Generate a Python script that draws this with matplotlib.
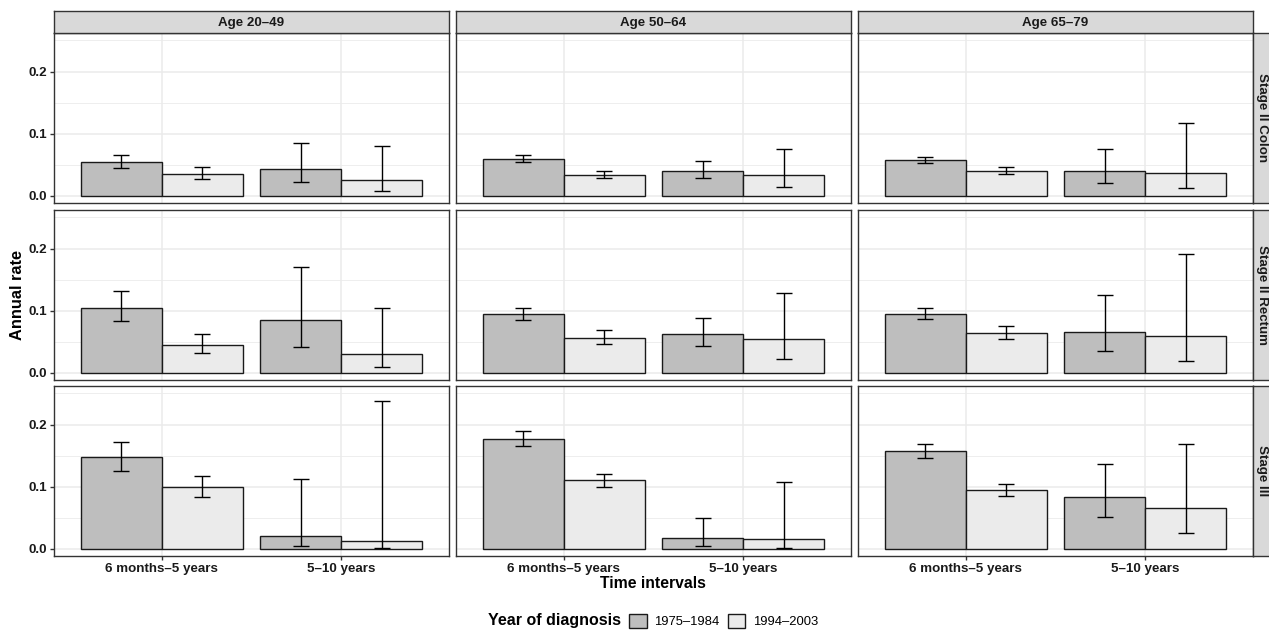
import numpy as np
import matplotlib.pyplot as plt
from matplotlib.patches import Patch

plt.rcParams['font.family'] = ['Liberation Sans', 'DejaVu Sans']

ages = ['Age 20–49', 'Age 50–64', 'Age 65–79']
stages = ['Stage II Colon', 'Stage II Rectum', 'Stage III']
intervals = ['6 months–5 years', '5–10 years']
periods = ['1975–1984', '1994–2003']

# [stage][age] -> [6 months-5 years, 5-10 years]
rate_early = [[[0.054, 0.044], [0.060, 0.040], [0.057, 0.040]],
              [[0.105, 0.085], [0.095, 0.062], [0.095, 0.066]],
              [[0.147, 0.021], [0.177, 0.017], [0.157, 0.084]]]
lo_early = [[[0.045, 0.022], [0.055, 0.029], [0.053, 0.021]],
            [[0.084, 0.042], [0.085, 0.044], [0.087, 0.035]],
            [[0.125, 0.004], [0.166, 0.005], [0.146, 0.051]]]
hi_early = [[[0.065, 0.085], [0.066, 0.056], [0.062, 0.075]],
            [[0.131, 0.170], [0.104, 0.089], [0.105, 0.125]],
            [[0.172, 0.112], [0.189, 0.050], [0.169, 0.137]]]
rate_late = [[[0.035, 0.025], [0.034, 0.033], [0.040, 0.037]],
             [[0.045, 0.030], [0.056, 0.055], [0.064, 0.060]],
             [[0.099, 0.013], [0.110, 0.016], [0.094, 0.066]]]
lo_late = [[[0.027, 0.008], [0.028, 0.014], [0.035, 0.012]],
           [[0.032, 0.009], [0.046, 0.023], [0.055, 0.019]],
           [[0.084, 0.001], [0.100, 0.002], [0.085, 0.025]]]
hi_late = [[[0.046, 0.081], [0.040, 0.076], [0.046, 0.118]],
           [[0.062, 0.105], [0.069, 0.129], [0.075, 0.191]],
           [[0.117, 0.238], [0.121, 0.107], [0.104, 0.168]]]

fill_early = '#bebebe'
fill_late = '#ebebeb'
edge = '#1a1a1a'
frame = '#333333'

W, H = 1269, 633
fig = plt.figure(figsize=(W / 100, H / 100), dpi=100)

def fx(px):
    return px / W

def fy(py):
    return 1 - py / H

left_px = [54, 456, 858]
top_px = [33, 210, 386]
pw, ph = 395, 170
x = np.arange(1, len(intervals) + 1)
bw = 0.45

for r, stage in enumerate(stages):
    for c, age in enumerate(ages):
        ax = fig.add_axes([fx(left_px[c]), fy(top_px[r] + ph), fx(pw), ph / H])
        ax.set_xlim(0.4, 2.6)
        ax.set_ylim(-0.0115, 0.262)
        ax.set_yticks([0.0, 0.1, 0.2])
        ax.set_yticks([0.05, 0.15, 0.25], minor=True)
        ax.set_xticks(x)
        ax.grid(True, which='major', color='#ebebeb', linewidth=1.1)
        ax.grid(True, which='minor', axis='y', color='#ebebeb', linewidth=0.6)
        ax.set_axisbelow(True)
        for s in ax.spines.values():
            s.set_color(frame)
            s.set_linewidth(1.0)

        series = [(rate_early, lo_early, hi_early, fill_early, -bw / 2),
                  (rate_late, lo_late, hi_late, fill_late, bw / 2)]
        for rate, lo, hi, fill, off in series:
            vals = np.array(rate[r][c])
            lows = np.array(lo[r][c])
            highs = np.array(hi[r][c])
            ax.bar(x + off, vals, width=bw, color=fill, edgecolor=edge,
                   linewidth=1.0, zorder=2)
            ax.errorbar(x + off, vals, yerr=[vals - lows, highs - vals],
                        fmt='none', ecolor='black', elinewidth=1.0,
                        capsize=6, capthick=1.0, zorder=3)

        ax.tick_params(axis='both', which='major', length=3, width=1.0,
                       color=frame, labelsize=9.6, pad=2)
        ax.tick_params(axis='both', which='minor', length=0)
        if c == 0:
            ax.set_yticklabels(['0.0', '0.1', '0.2'], fontweight='bold',
                               color='#1a1a1a')
        else:
            ax.tick_params(axis='y', labelleft=False, length=0)
        if r == len(stages) - 1:
            ax.set_xticklabels(intervals, fontweight='bold', fontsize=9.6,
                               color='#1a1a1a')
        else:
            ax.tick_params(axis='x', labelbottom=False, length=0)

        if r == 0:
            sax = fig.add_axes([fx(left_px[c]), fy(top_px[0]), fx(pw), 22 / H])
            sax.set_facecolor('#d9d9d9')
            sax.set_xticks([])
            sax.set_yticks([])
            for s in sax.spines.values():
                s.set_color(frame)
                s.set_linewidth(1.0)
            sax.text(0.5, 0.47, age, ha='center', va='center',
                     fontweight='bold', fontsize=9.6, color='#1a1a1a',
                     transform=sax.transAxes)
        if c == len(ages) - 1:
            sax = fig.add_axes([fx(left_px[c] + pw), fy(top_px[r] + ph),
                                fx(22), ph / H])
            sax.set_facecolor('#d9d9d9')
            sax.set_xticks([])
            sax.set_yticks([])
            for s in sax.spines.values():
                s.set_color(frame)
                s.set_linewidth(1.0)
            sax.text(0.4, 0.5, stage, ha='center', va='center', rotation=-90,
                     fontweight='bold', fontsize=9.6, color='#1a1a1a',
                     transform=sax.transAxes)

fig.text(fx(18), fy(295), 'Annual rate', rotation=90, ha='center',
         va='center', fontweight='bold', fontsize=11.8)
fig.text(fx(653), fy(583), 'Time intervals', ha='center', va='center',
         fontweight='bold', fontsize=11.3)

fig.text(fx(621), fy(621), 'Year of diagnosis', ha='right', va='center',
         fontweight='bold', fontsize=11.5)
handles = [Patch(facecolor=fill_early, edgecolor=edge, linewidth=1.0),
           Patch(facecolor=fill_late, edgecolor=edge, linewidth=1.0)]
fig.legend(handles, periods, ncol=2, loc='center left',
           bbox_to_anchor=(fx(629), fy(621)), frameon=False, fontsize=9.4,
           handlelength=1.35, handleheight=1.35, handletextpad=0.6,
           columnspacing=0.6, borderaxespad=0, borderpad=0)

fig.savefig('out.png', dpi=100)
